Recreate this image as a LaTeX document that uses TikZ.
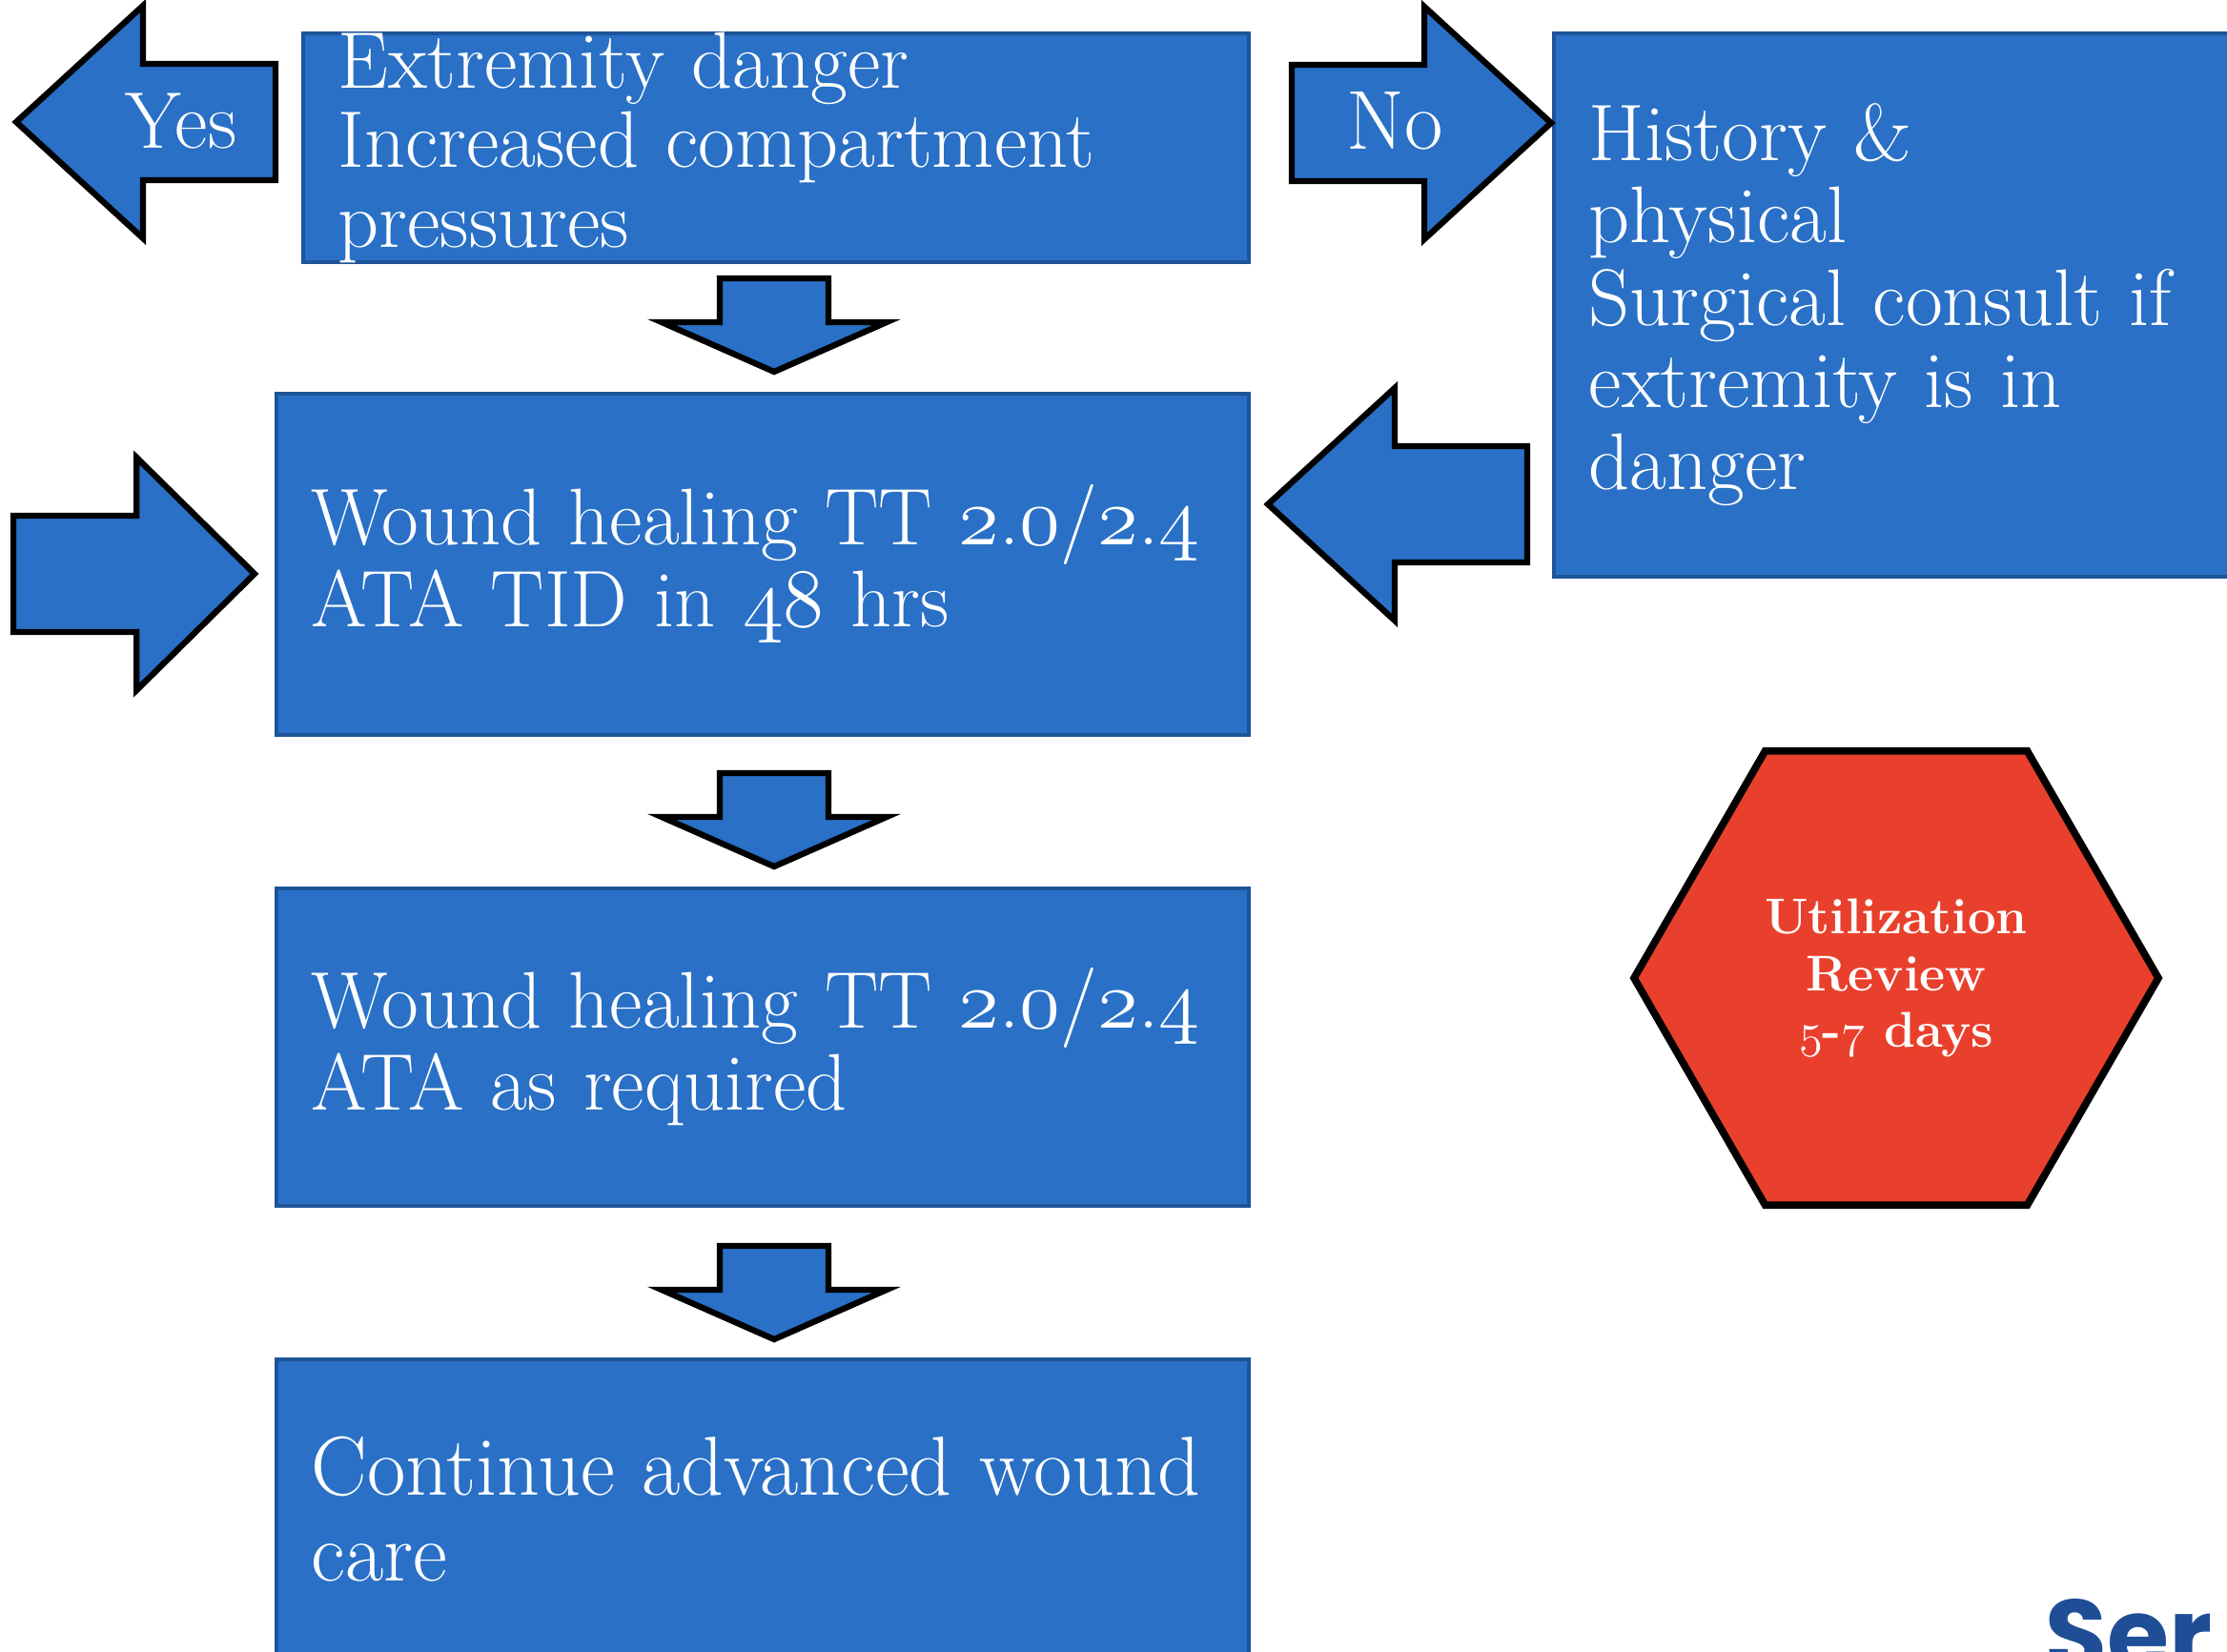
\documentclass[tikz,border=0pt]{standalone}
\usepackage{fontspec}
\newfontfamily\titlefont{Poppins}
\usetikzlibrary{shapes.geometric}

\definecolor{boxblue}{RGB}{41,112,198}
\definecolor{boxedge}{RGB}{30,84,152}
\definecolor{stopred}{RGB}{232,64,44}
\definecolor{titleblue}{RGB}{31,78,150}

% old style figures from the math italic font
\newcommand{\osf}[1]{{\usefont{OML}{lmm}{m}{it}#1}}
\newcommand{\osfb}[1]{{\usefont{OML}{lmm}{b}{it}#1}}

\tikzset{
	box/.style={rectangle, draw=boxedge, line width=1pt, fill=boxblue,
		text=white, align=left, anchor=north west,
		inner xsep=0.37cm, inner ysep=0pt,
		font=\fontsize{24}{24.5}\selectfont},
	arrowbox/.style={draw=black, line width=1.8pt, fill=boxblue, line join=miter},
	hexa/.style={regular polygon, regular polygon sides=6, minimum size=5.5cm,
		inner sep=0pt, draw=black, line width=2.2pt, fill=stopred,
		text=white, align=center, font=\fontsize{15}{17}\selectfont\bfseries},
	rarrow/.pic={
		\draw [arrowbox] (0,0) -- (-1.33,1.22) -- (-1.33,0.61) -- (-2.72,0.61)
			-- (-2.72,-0.61) -- (-1.33,-0.61) -- (-1.33,-1.22) -- cycle;
	},
	darrow/.pic={
		\draw [arrowbox] (0,0) -- (-1.18,0.52) -- (-0.57,0.52) -- (-0.57,0.98)
			-- (0.57,0.98) -- (0.57,0.52) -- (1.18,0.52) -- cycle;
	}
}

\begin{document}
\begin{tikzpicture}
	\useasboundingbox (0,0) rectangle (23.36,-17.33);

	\node [box, text width=9.18cm, minimum height=2.40cm, inner ysep=-0.1cm,
		font=\fontsize{24}{23.8}\selectfont] (1) at (3.16,-0.33)
		{Extremity danger\\Increased compartment\\pressures};
	\node [box, text width=9.46cm, minimum height=3.58cm] (2) at (2.88,-4.11)
		{Wound healing TT \osf{2}.\osf{0}/\osf{2}.\osf{4}\\ATA TID in \osf{48} hrs};
	\node [box, text width=9.46cm, minimum height=3.33cm] (3) at (2.88,-9.30)
		{Wound healing TT \osf{2}.\osf{0}/\osf{2}.\osf{4}\\ATA as required};
	\node [box, text width=9.46cm, minimum height=3.15cm,
		font=\fontsize{25}{25.5}\selectfont] (4) at (2.88,-14.24)
		{Continue advanced wound\\care};
	\node [box, text width=7.26cm, minimum height=5.70cm] (5) at (16.28,-0.33)
		{History \&\\physical\\Surgical consult if\\extremity is in\\danger};

	\node [hexa] (6) at (19.89,-10.26)
		{Utilization\\Review\\\osfb{5}-\osfb{7} days};

	% block arrows
	\pic [rotate=180] at (0.17,-1.28) {rarrow};
	\pic at (16.27,-1.29) {rarrow};
	\pic [xscale=0.93] at (2.67,-6.02) {rarrow};
	\pic [rotate=180] at (13.30,-5.29) {rarrow};
	\pic at (8.12,-3.90) {darrow};
	\pic at (8.12,-9.09) {darrow};
	\pic at (8.12,-14.05) {darrow};

	\node [text=white, font=\fontsize{24}{24}\selectfont] (7) at (1.90,-1.27) {Yes};
	\node [text=white, font=\fontsize{25}{25}\selectfont] (8) at (14.63,-1.27) {No};

	\node [anchor=base west, inner sep=0pt, text=titleblue,
		font=\titlefont\bfseries\fontsize{30}{32}\selectfont] (9) at (21.45,-17.52) {Ser};
\end{tikzpicture}
\end{document}
